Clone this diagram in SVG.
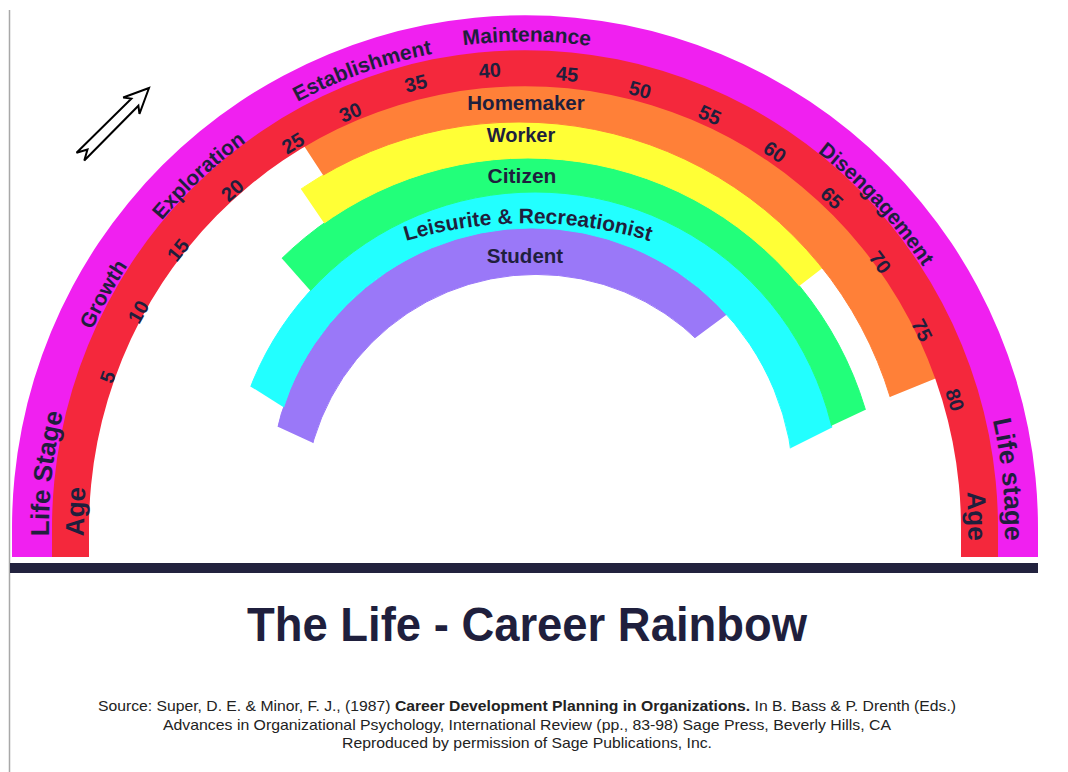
<svg xmlns="http://www.w3.org/2000/svg" width="1068" height="772" viewBox="0 0 1068 772">
<style>
  text { font-family: "Liberation Sans", Arial, sans-serif; fill: #1f1f3d; font-weight: bold; }
  .stage { font-size: 21px; }
  .big { font-size: 26px; }
  .age { font-size: 20px; text-anchor: middle; }
  .role { font-size: 20px; text-anchor: middle; }
  .src { font-size: 15px; font-weight: normal; text-anchor: middle; fill: #222; }
  .ring { fill-rule: evenodd; stroke-width: 1; }
</style>
<defs>
  <path id="pm1" d="M 56.23 610.66 A 476 476 0 1 1 993.77 610.66"/>
  <path id="pm2" d="M 49.34 611.87 A 483 483 0 1 1 1000.66 611.87"/>
  <path id="pm3" d="M 45.89 612.47 A 486.5 486.5 0 1 1 1004.11 612.47"/>
  <path id="pm4" d="M 52.29 611.35 A 480 480 0 1 1 997.71 611.35"/>
  <path id="pleis" d="M 105 646 A 423 423 0 0 1 951 646"/>
  <clipPath id="cOrange"><polygon points="530,500 355.8,225.3 171.4,-57.4 530,-300 1158.6,287.9 839.4,417.6"/></clipPath>
  <clipPath id="cYellow"><polygon points="530,500 355.7,269.6 164.4,-11.8 530,-300 1017.8,117.1 750.5,323.7"/></clipPath>
  <clipPath id="cGreen"><polygon points="530,500 347.8,332.9 119.3,74.7 530,-300 1091.4,303.9 778.7,450.5"/></clipPath>
  <clipPath id="cCyan"><polygon points="530,500 333.7,439.1 41.8,254.2 530,-300 1056.6,315.2 743.3,471.8"/></clipPath>
  <clipPath id="cPurple"><polygon points="530,500 367.5,468.1 47,320.2 530,-300 922.9,169.2 646.8,373.7"/></clipPath>
</defs>
<rect x="0" y="0" width="1068" height="772" fill="#ffffff"/>
<line x1="9.5" y1="10" x2="9.5" y2="772" stroke="#a8a8a8" stroke-width="1.5"/>

<g id="band-student">
  <path class="ring" fill="#9a78f8" stroke="#9a78f8" clip-path="url(#cPurple)" d="M 270 490 A 262 262 0 1 1 794 490 A 262 262 0 1 1 270 490 Z M 304 506.5 A 232 232 0 1 1 768 506.5 A 232 232 0 1 1 304 506.5 Z"/>
  <text class="role" x="525" y="263" style="font-size:20.5px">Student</text>
</g>
<g id="band-leisurite">
  <path class="ring" fill="#22ffff" stroke="#22ffff" clip-path="url(#cCyan)" d="M 230 497 A 305 305 0 1 1 840 497 A 305 305 0 1 1 230 497 Z M 270 490 A 262 262 0 1 1 794 490 A 262 262 0 1 1 270 490 Z"/>
  <text style="font-size:21px" text-anchor="middle"><textPath href="#pleis" startOffset="50%">Leisurite &amp; Recreationist</textPath></text>
</g>
<g id="band-citizen">
  <path class="ring" fill="#22ff7a" stroke="#22ff7a" clip-path="url(#cGreen)" d="M 176 510 A 352 352 0 1 1 880 510 A 352 352 0 1 1 176 510 Z M 230 497 A 305 305 0 1 1 840 497 A 305 305 0 1 1 230 497 Z"/>
  <text class="role" x="522" y="183" style="font-size:21px">Citizen</text>
</g>
<g id="band-worker">
  <path class="ring" fill="#ffff36" stroke="#ffff36" clip-path="url(#cYellow)" d="M 131 510 A 388 388 0 1 1 907 510 A 388 388 0 1 1 131 510 Z M 176 510 A 352 352 0 1 1 880 510 A 352 352 0 1 1 176 510 Z"/>
  <text class="role" x="521" y="142">Worker</text>
</g>
<g id="band-homemaker">
  <path class="ring" fill="#ff8038" stroke="#ff8038" clip-path="url(#cOrange)" d="M 73 528 A 452 458 0 1 1 977 528 A 452 458 0 1 1 73 528 Z M 131 510 A 388 388 0 1 1 907 510 A 388 388 0 1 1 131 510 Z"/>
  <text class="role" x="526" y="110" style="font-size:20.5px">Homemaker</text>
</g>

<g id="band-age">
  <path fill="#f4283c" d="M 50 557 L 50 528 A 475 480 0 0 1 1000 528 L 1000 557 L 961 557 L 961 528 A 436 442 0 0 0 89 528 L 89 557 Z"/>
  <text class="big" x="525" y="87" text-anchor="middle" transform="rotate(-87.9 525 528)">Age</text>
  <text class="big" x="525" y="85" text-anchor="middle" transform="rotate(88.5 525 528)">Age</text>
  <text class="age" x="525" y="91" transform="rotate(-70.1 525 528)">5</text>
  <text class="age" x="525" y="92" transform="rotate(-60.8 525 528)">10</text>
  <text class="age" x="525" y="90.4" transform="rotate(-51.3 525 528)">15</text>
  <text class="age" x="525" y="88" transform="rotate(-40.9 525 528)">20</text>
  <text class="age" x="525" y="85.5" transform="rotate(-31.1 525 528)">25</text>
  <text class="age" x="525" y="84" transform="rotate(-22.8 525 528)">30</text>
  <text class="age" x="525" y="77" transform="rotate(-13.8 525 528)">35</text>
  <text class="age" x="525" y="76" transform="rotate(-4.4 525 528)">40</text>
  <text class="age" x="525" y="79" transform="rotate(5.3 525 528)">45</text>
  <text class="age" x="525" y="82" transform="rotate(14.7 525 528)">50</text>
  <text class="age" x="525" y="82.5" transform="rotate(24.1 525 528)">55</text>
  <text class="age" x="525" y="83.5" transform="rotate(33.6 525 528)">60</text>
  <text class="age" x="525" y="84.3" transform="rotate(42.9 525 528)">65</text>
  <text class="age" x="525" y="91.4" transform="rotate(53.2 525 528)">70</text>
  <text class="age" x="525" y="91.4" transform="rotate(63.5 525 528)">75</text>
  <text class="age" x="525" y="86.4" transform="rotate(73.4 525 528)">80</text>
</g>

<g id="band-lifestage">
  <path fill="#f020f0" d="M 12 557 L 12 528 A 513 513 0 0 1 1038 528 L 1038 557 L 998 557 L 998 528 A 473 478 0 0 0 52 528 L 52 557 Z"/>
  <text class="big" text-anchor="middle"><textPath href="#pm1" startOffset="137.1">Life Stage</textPath></text>
  <text class="stage" text-anchor="middle"><textPath href="#pm1" startOffset="324">Growth</textPath></text>
  <text class="stage" text-anchor="middle"><textPath href="#pm1" startOffset="475.2">Exploration</textPath></text>
  <text class="stage" text-anchor="middle"><textPath href="#pm2" startOffset="677.8">Establishment</textPath></text>
  <text class="stage" text-anchor="middle"><textPath href="#pm3" startOffset="850.8">Maintenance</textPath></text>
  <text class="stage" text-anchor="middle"><textPath href="#pm1" startOffset="1223.7">Disengagement</textPath></text>
  <text class="big" text-anchor="middle"><textPath href="#pm4" startOffset="1543.2">Life stage</textPath></text>
</g>

<g id="arrow">
  <polygon points="0,0 -25,11.5 -20,5 -97,5.5 -87,0 -97,-5.5 -20,-5 -25,-11.5" transform="translate(149,88) rotate(-45)" fill="#ffffff" stroke="#000000" stroke-width="2" stroke-linejoin="miter"/>
</g>

<g id="connectors"></g>

<g id="baseline-bar">
  <rect x="10" y="563" width="1028" height="10" fill="#22223e"/>
</g>

<g id="title">
  <text x="527" y="641" font-size="49" text-anchor="middle" textLength="560" lengthAdjust="spacingAndGlyphs">The Life - Career Rainbow</text>
</g>

<g id="source">
  <text class="src" x="527" y="711" textLength="858" lengthAdjust="spacingAndGlyphs">Source: Super, D. E. &amp; Minor, F. J., (1987) <tspan font-weight="bold">Career Development Planning in Organizations.</tspan>  In B. Bass &amp; P. Drenth (Eds.)</text>
  <text class="src" x="527" y="729.5" textLength="728" lengthAdjust="spacingAndGlyphs">Advances in Organizational Psychology, International Review (pp., 83-98) Sage Press, Beverly Hills, CA</text>
  <text class="src" x="527" y="748" textLength="370" lengthAdjust="spacingAndGlyphs">Reproduced by permission of Sage Publications, Inc.</text>
</g>
</svg>
